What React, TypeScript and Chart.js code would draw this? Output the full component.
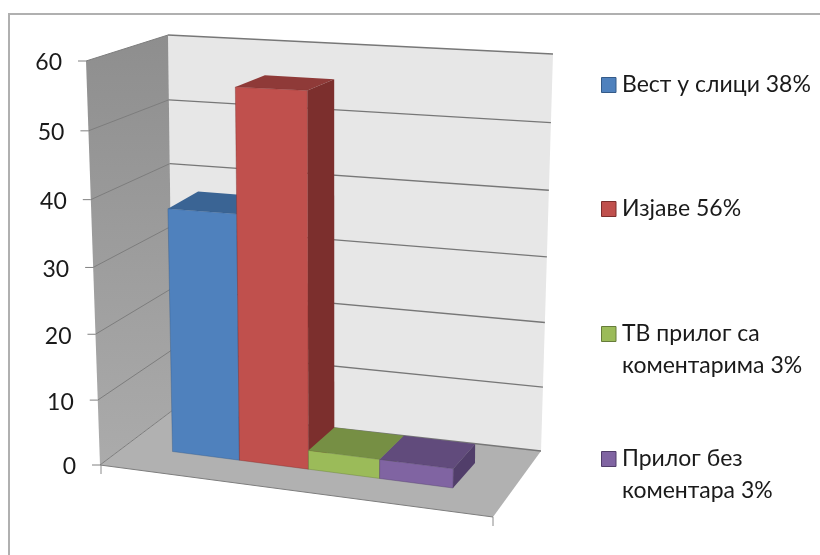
import React, { useEffect, useRef } from "react";
import { Chart, registerables, LinearScale } from "chart.js";

Chart.register(...registerables);

const categories = [
  ["Вест у слици 38%"],
  ["Изјаве 56%"],
  ["ТВ прилог са", "коментарима 3%"],
  ["Прилог без", "коментара 3%"],
];
const values = [38, 56, 3, 3];
const frontColors = ["#4f81bd", "#c0504d", "#9bbb59", "#8064a2"];
const topColors = ["#3a6494", "#8f3a38", "#768f44", "#614b7c"];
const sideColors = ["#345a88", "#7c2f2d", "#667c3a", "#513e6a"];
const legendY = [85, 209, 334, 459];

const FONT = 'Lato, "Noto Sans", sans-serif';
type P = [number, number];

// projective map of the unit square (u right, v up) onto a quad: BL, BR, TR, TL
function homography(q: P[]) {
  const [p0, p1, p2, p3] = q;
  const dx1 = p1[0] - p2[0], dx2 = p3[0] - p2[0], sx = p0[0] - p1[0] + p2[0] - p3[0];
  const dy1 = p1[1] - p2[1], dy2 = p3[1] - p2[1], sy = p0[1] - p1[1] + p2[1] - p3[1];
  const den = dx1 * dy2 - dx2 * dy1;
  const g = (sx * dy2 - dx2 * sy) / den, h = (dx1 * sy - sx * dy1) / den;
  const a = p1[0] - p0[0] + g * p1[0], b = p3[0] - p0[0] + h * p3[0];
  const d = p1[1] - p0[1] + g * p1[1], e = p3[1] - p0[1] + h * p3[1];
  return (u: number, v: number): P => {
    const w = g * u + h * v + 1;
    return [(a * u + b * v + p0[0]) / w, (d * u + e * v + p0[1]) / w];
  };
}

const front = homography([[172.5, 451.5], [453, 488], [459, 67], [165, 55]]);
const back = homography([[200, 430], [475, 463], [478, 59], [197, 44]]);

const EDGE_TOP: P = [86, 61];
const EDGE_BOTTOM: P = [100, 465];
const BACK_TL: P = [168, 35];
const BACK_TR: P = [553, 54];
const BACK_BR: P = [541, 451];
const BACK_BL: P = [173, 410];
const FLOOR_FRONT_R: P = [493, 517];

const lerp = (a: P, b: P, t: number): P => [a[0] + (b[0] - a[0]) * t, a[1] + (b[1] - a[1]) * t];

function poly(ctx: CanvasRenderingContext2D, pts: P[], fill: any, stroke?: string) {
  ctx.beginPath();
  pts.forEach((p, i) => (i ? ctx.lineTo(p[0], p[1]) : ctx.moveTo(p[0], p[1])));
  ctx.closePath();
  ctx.fillStyle = fill;
  ctx.fill();
  if (stroke) {
    ctx.strokeStyle = stroke;
    ctx.lineWidth = 1;
    ctx.stroke();
  }
}
function line(ctx: CanvasRenderingContext2D, a: P, b: P, color: string, w = 1) {
  ctx.beginPath();
  ctx.moveTo(a[0], a[1]);
  ctx.lineTo(b[0], b[1]);
  ctx.strokeStyle = color;
  ctx.lineWidth = w;
  ctx.stroke();
}

// linear axis with the slight foreshortening of the 3D front edge
class PerspectiveScale extends (LinearScale as any) {
  static id = "perspective";
  static defaults = (LinearScale as any).defaults;
  getPixelForValue(value: number) {
    if (value === null || value === undefined) return NaN;
    const d = (value - this.min) / (this.max - this.min);
    return this.getPixelForDecimal(d / (1 + 0.045 * (1 - d)));
  }
  _computeLabelItems(area: any) {
    const items = super._computeLabelItems(area);
    items.forEach((it: any) => {
      const t = (it.options.translation[1] - this.top) / (this.bottom - this.top);
      it.options.translation[0] += t * (EDGE_BOTTOM[0] - EDGE_TOP[0]);
      it.options.translation[1] += 2;
    });
    return items;
  }
}
Chart.register(PerspectiveScale as any);

const scene = {
  id: "scene3d",
  beforeDraw(chart: any) {
    const ctx = chart.ctx;
    ctx.save();
    ctx.strokeStyle = "#b0b0b0";
    ctx.lineWidth = 2;
    ctx.strokeRect(9, 14, 1000, 1000);
    ctx.restore();
  },
  beforeDatasetsDraw(chart: any) {
    const ctx = chart.ctx;
    const y = chart.scales.y;
    ctx.save();
    poly(ctx, [BACK_TL, BACK_TR, BACK_BR, BACK_BL], "#e7e7e7");
    const g = ctx.createLinearGradient(0, 35, 0, 465);
    g.addColorStop(0, "#8e8e8e");
    g.addColorStop(1, "#ababab");
    poly(ctx, [EDGE_TOP, BACK_TL, BACK_BL, EDGE_BOTTOM], g);
    poly(ctx, [EDGE_BOTTOM, BACK_BL, BACK_BR, FLOOR_FRONT_R], "#b1b1b1");
    y.ticks.forEach((t: any) => {
      const py = y.getPixelForValue(t.value);
      const d = (y.bottom - py) / (y.bottom - y.top);
      const edge: P = [lerp(EDGE_BOTTOM, EDGE_TOP, d)[0], py];
      const corner = lerp(BACK_BL, BACK_TL, d);
      const right = lerp(BACK_BR, BACK_TR, d);
      line(ctx, edge, corner, "#7d7d7d");
      line(ctx, corner, right, "#777777", 1.3);
      line(ctx, [edge[0] - 8, py], edge, "#808080");
    });
    line(ctx, EDGE_BOTTOM, FLOOR_FRONT_R, "#7d7d7d");
    line(ctx, [EDGE_BOTTOM[0] + 1, EDGE_BOTTOM[1]], [EDGE_BOTTOM[0] + 1, EDGE_BOTTOM[1] + 9], "#8a8a8a");
    line(ctx, FLOOR_FRONT_R, [FLOOR_FRONT_R[0], FLOOR_FRONT_R[1] + 9], "#8a8a8a");
    ctx.restore();
  },
  beforeDatasetDraw(chart: any, args: any) {
    const ctx = chart.ctx;
    const area = chart.chartArea;
    const uOf = (x: number) => (x - area.left) / (area.right - area.left);
    const vOf = (py: number) => (area.bottom - py) / (area.bottom - area.top);
    ctx.save();
    args.meta.data.forEach((bar: any, i: number) => {
      const u0 = uOf(bar.x - bar.width / 2), u1 = uOf(bar.x + bar.width / 2);
      const v0 = vOf(bar.base), v1 = vOf(bar.y);
      poly(ctx, [front(u0, v1), front(u1, v1), back(u1, v1), back(u0, v1)], topColors[i]);
      poly(ctx, [front(u1, v0), front(u1, v1), back(u1, v1), back(u1, v0)], sideColors[i]);
      poly(
        ctx,
        [front(u0, v0), front(u1, v0), front(u1, v1), front(u0, v1)],
        frontColors[i],
        sideColors[i] + "66"
      );
    });
    ctx.restore();
    return false;
  },
  afterDraw(chart: any) {
    const ctx = chart.ctx;
    ctx.save();
    ctx.textBaseline = "middle";
    ctx.textAlign = "left";
    ctx.font = `23px ${FONT}`;
    categories.forEach((lines, i) => {
      poly(ctx, [[601.5, legendY[i] - 7.5], [616, legendY[i] - 7.5], [616, legendY[i] + 7.5], [601.5, legendY[i] + 7.5]], frontColors[i], sideColors[i]);
      ctx.fillStyle = "#1a1a1a";
      lines.forEach((txt, k) => ctx.fillText(txt, 622, legendY[i] + k * 32));
    });
    ctx.restore();
  },
};

export default function App() {
  const ref = useRef<HTMLCanvasElement>(null);
  useEffect(() => {
    const chart = new Chart(ref.current!, {
      type: "bar",
      data: {
        labels: categories.map((c) => c.join(" ")),
        datasets: [{ data: values, backgroundColor: frontColors, barPercentage: 1, categoryPercentage: 1 }],
      },
      options: {
        animation: false,
        responsive: false,
        layout: { padding: { top: 61, bottom: 90, left: 0, right: 367 } },
        plugins: { legend: { display: false }, tooltip: { enabled: false } },
        scales: {
          x: { display: false },
          y: {
            type: "perspective",
            min: 0,
            max: 60,
            afterFit: (s: any) => { s.width = 86; },
            grid: { display: false },
            border: { display: false },
            ticks: { stepSize: 10, padding: 16, color: "#1a1a1a", font: { family: FONT, size: 23 } },
          },
        },
      } as any,
      plugins: [scene],
    });
    return () => chart.destroy();
  }, []);
  return (
    <canvas
      ref={ref}
      width={820}
      height={555}
      style={{ position: "absolute", left: 0, top: 0, display: "block", background: "#fff", filter: "blur(0.5px)" }}
    />
  );
}
